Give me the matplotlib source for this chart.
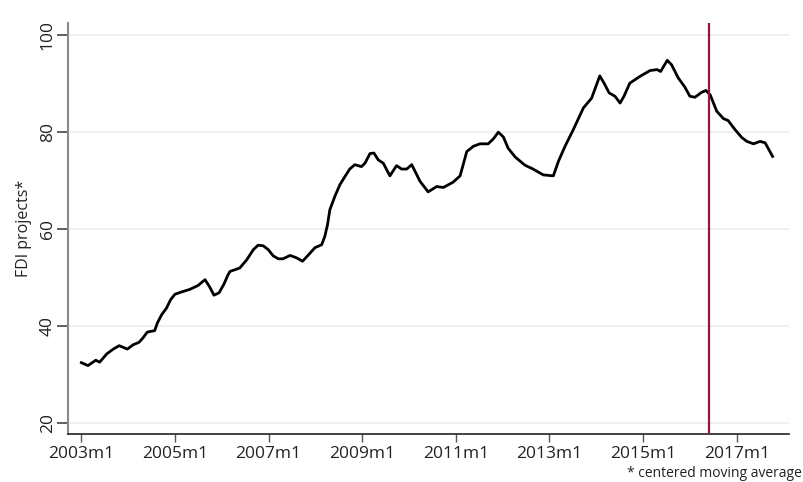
import matplotlib
matplotlib.use("Agg")
import matplotlib.pyplot as plt

# months since 2003m1 and centered-moving-average FDI projects
months = [0, 1.7, 3.7, 4.7, 6.5, 8.2, 9.7, 11.8, 13.3, 14.8, 15.8, 16.9, 18.8, 19.5,
          20.6, 21.8, 22.9, 24, 25.8, 27.8, 29.9, 31.7, 32.9, 34, 35.3, 36.5, 37.6,
          38.1, 40.6, 42.4, 44.1, 45.3, 46.6, 47.9, 49.2, 50.5, 51.7, 53.5, 55.2,
          56.7, 58.2, 59.9, 61.6, 62.4, 63.1, 63.7, 65.0, 66.3, 67.6, 68.8, 70.1,
          71.8, 72.7, 74.0, 75.0, 76.1, 77.4, 79.1, 80.8, 82.1, 83.4, 84.7, 86.8,
          88.9, 91.1, 92.8, 95.3, 97.1, 98.8, 100.5, 102.2, 104.3, 105.6, 106.9,
          108.2, 109.4, 111.2, 113.7, 115.8, 118.4, 121.0, 122.3, 124.0, 126.1,
          128.7, 130.8, 131.9, 132.9, 134.0, 135.3, 136.8, 138.1, 139.1, 140.6,
          143.2, 145.8, 147.6, 148.5, 150.2, 151.3, 153.0, 154.7, 156.0, 157.3,
          159.0, 160.1, 161.2, 162.9, 164.6, 165.8, 167.6, 169.3, 170.6, 172.3,
          174.0, 175.3, 177.2]
values = [32.4, 31.8, 32.9, 32.5, 34.2, 35.2, 35.9, 35.2, 36.1, 36.6, 37.5, 38.7, 39.0, 40.6,
          42.3, 43.6, 45.4, 46.5, 47.0, 47.5, 48.3, 49.5, 48.0, 46.3, 46.8, 48.5, 50.5,
          51.2, 51.9, 53.6, 55.7, 56.6, 56.5, 55.7, 54.4, 53.8, 53.8, 54.5, 54.0,
          53.3, 54.6, 56.1, 56.7, 58.4, 60.8, 63.9, 66.7, 69.1, 70.8, 72.3, 73.2,
          72.8, 73.5, 75.5, 75.6, 74.2, 73.5, 70.9, 73.0, 72.3, 72.3, 73.2, 69.8,
          67.6, 68.7, 68.5, 69.6, 70.9, 75.9, 77.0, 77.5, 77.5, 78.5, 79.9,
          78.9, 76.6, 74.8, 73.1, 72.3, 71.1, 70.9, 73.9, 77.0, 80.4,
          84.9, 86.9, 89.3, 91.5, 90.0, 88.0, 87.3, 85.9, 87.3, 90.0,
          91.4, 92.6, 92.8, 92.4, 94.7, 93.8, 91.1, 89.2, 87.3, 87.1,
          88.1, 88.5, 87.6, 84.2, 82.7, 82.3, 80.4, 78.8, 78.0, 77.5,
          78.0, 77.7, 74.9]

xtick_months = [0, 24, 48, 72, 96, 120, 144, 168]
xtick_labels = ["2003m1", "2005m1", "2007m1", "2009m1", "2011m1", "2013m1", "2015m1", "2017m1"]
yticks = [20, 40, 60, 80, 100]
event_month = 161  # 2016m6

plt.rcParams['font.family'] = ['Open Sans', 'DejaVu Sans']

fig = plt.figure(figsize=(8.04, 4.82), dpi=100)
ax = fig.add_axes([0.0842, 0.0996, 0.8971, 0.8527])

for y in yticks:
    ax.axhline(y, color="#efefef", lw=1.3, zorder=0)

ax.plot(months, values, color="black", lw=2.0, zorder=3)
ax.axvline(event_month, color="#8b1a3e", lw=1.6, zorder=4)

ax.set_xlim(-3.5, 181.4)
ax.set_ylim(17.7, 102.4)

ax.set_xticks(xtick_months)
ax.set_xticklabels(xtick_labels, fontsize=12.5, color="#222222")
ax.set_yticks(yticks)
ax.set_yticklabels([str(v) for v in yticks], fontsize=12.5, rotation=90, va="center",
                   color="#222222")

for s in ["top", "right"]:
    ax.spines[s].set_visible(False)
ax.spines["left"].set_color("#8a8a8a")
ax.spines["left"].set_linewidth(1.5)
ax.spines["bottom"].set_color("#222222")
ax.spines["bottom"].set_linewidth(1.2)
ax.tick_params(axis="y", length=8, width=1.2, color="#444444", pad=0.5)
ax.tick_params(axis="x", length=6, width=1.0, color="#555555", pad=3)

ax.set_ylabel("FDI projects*", fontsize=11.5, color="#222222", labelpad=6)

fig.text(0.997, 0.003, "* centered moving average", ha="right", va="bottom",
         fontsize=10, color="#222222")

fig.savefig("out.png", dpi=100)
